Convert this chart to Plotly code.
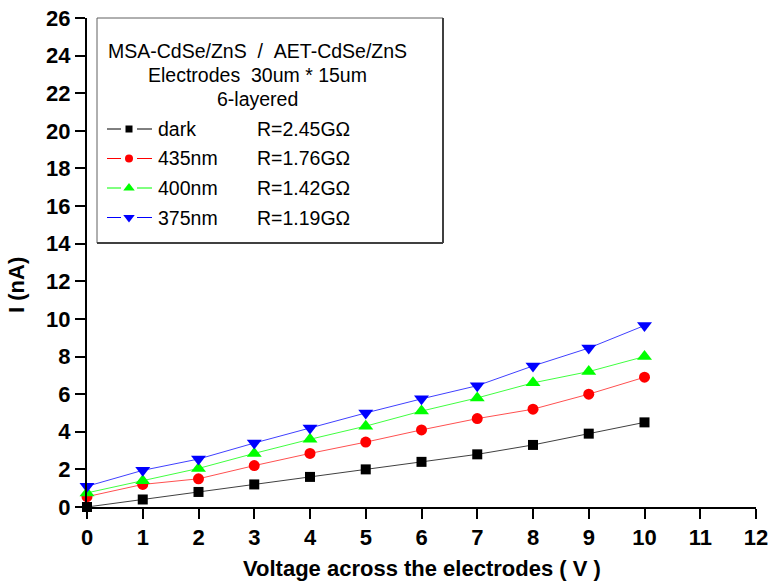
import plotly.graph_objects as go

# Applied bias (V) and measured photocurrent (nA) for each illumination condition
voltage = [0, 1, 2, 3, 4, 5, 6, 7, 8, 9, 10]
i_dark = [0.0, 0.4, 0.8, 1.2, 1.6, 2.0, 2.4, 2.8, 3.3, 3.9, 4.5]
i_435 = [0.55, 1.2, 1.5, 2.2, 2.85, 3.45, 4.1, 4.7, 5.2, 6.0, 6.9]
i_400 = [0.75, 1.4, 2.05, 2.85, 3.6, 4.3, 5.1, 5.8, 6.6, 7.2, 8.0]
i_375 = [1.1, 1.95, 2.55, 3.4, 4.2, 5.0, 5.75, 6.45, 7.5, 8.45, 9.65]

series_names = ["dark", "435nm", "400nm", "375nm"]
resistances = ["R=2.45G\u03a9", "R=1.76G\u03a9", "R=1.42G\u03a9", "R=1.19G\u03a9"]
series_values = [i_dark, i_435, i_400, i_375]
marker_colors = ["#000000", "#ff0000", "#00ff00", "#0000ff"]
line_colors = ["#404040", "#ff5050", "#40ff40", "#4040ff"]
symbols = ["square", "circle", "triangle-up", "triangle-down"]
sizes = [10, 11, 13, 13]

x_ticks = list(range(0, 13))
y_ticks = list(range(0, 27, 2))

W, H = 769, 585
ML, MR, MT, MB = 87, 13, 18, 78
PW, PH = W - ML - MR, H - MT - MB


def px(x):
    return (x - ML) / PW


def py(y):
    return (H - MB - y) / PH


FONT = "Liberation Sans, Arial, sans-serif"

fig = go.Figure()

for name, vals, mc, lc, sym, sz in zip(series_names, series_values, marker_colors,
                                        line_colors, symbols, sizes):
    fig.add_trace(go.Scatter(
        x=voltage, y=vals, mode="lines+markers", name=name,
        line=dict(color=lc, width=1),
        marker=dict(symbol=sym, size=sz, color=mc, line=dict(width=0)),
        showlegend=False, cliponaxis=False,
    ))

# Inset key box
box_l, box_t, box_r, box_b = 97, 18, 443, 243
shapes = [
    dict(type="rect", xref="paper", yref="paper",
         x0=px(box_l), x1=px(box_r), y0=py(box_b), y1=py(box_t),
         line=dict(color="#606060", width=1), fillcolor="white", layer="below"),
    dict(type="line", xref="paper", yref="paper",
         x0=px(box_r), x1=px(box_r), y0=py(box_b), y1=py(box_t),
         line=dict(color="#404040", width=2)),
    dict(type="line", xref="paper", yref="paper",
         x0=px(box_l), x1=px(box_r), y0=py(box_b), y1=py(box_b),
         line=dict(color="#404040", width=2)),
]

annotations = []
header = ["MSA-CdSe/ZnS\u00a0\u00a0/\u00a0\u00a0AET-CdSe/ZnS",
          "Electrodes\u00a0\u00a030um * 15um",
          "6-layered"]
for k, txt in enumerate(header):
    annotations.append(dict(
        x=px(257), y=py(51 + k * 24), xref="paper", yref="paper",
        text=txt, showarrow=False, xanchor="center", yanchor="middle",
        font=dict(family=FONT, size=19.5, color="black")))

row_y = [129, 158.5, 188, 217.5]
for k in range(4):
    yy = row_y[k]
    for a, b in [(107, 121), (137, 152)]:
        shapes.append(dict(type="line", xref="paper", yref="paper",
                           x0=px(a), x1=px(b), y0=py(yy), y1=py(yy),
                           line=dict(color=marker_colors[k], width=1)))
    annotations.append(dict(
        x=px(156), y=py(yy), xref="paper", yref="paper", text=series_names[k],
        showarrow=False, xanchor="left", yanchor="middle",
        font=dict(family=FONT, size=19.5, color="black")))
    annotations.append(dict(
        x=px(255), y=py(yy), xref="paper", yref="paper", text=resistances[k],
        showarrow=False, xanchor="left", yanchor="middle",
        font=dict(family=FONT, size=19.5, color="black")))
    fig.add_trace(go.Scatter(
        x=[px(129)], y=[py(yy)], mode="markers", xaxis="x2", yaxis="y2",
        marker=dict(symbol=symbols[k], size=sizes[k] - 3, color=marker_colors[k]),
        showlegend=False, hoverinfo="skip"))

# Axis titles
annotations.append(dict(
    x=px(422), y=py(568), xref="paper", yref="paper",
    text="Voltage across the electrodes ( V )", showarrow=False,
    xanchor="center", yanchor="middle",
    font=dict(family=FONT, size=22, color="black", weight="bold")))
annotations.append(dict(
    x=px(16), y=py(285), xref="paper", yref="paper", text="I (nA)",
    showarrow=False, textangle=-90, xanchor="center", yanchor="middle",
    font=dict(family=FONT, size=22, color="black", weight="bold")))

axis_common = dict(
    showgrid=False, zeroline=False, showline=True, linecolor="black", linewidth=2,
    ticks="outside", ticklen=10, tickwidth=2, tickcolor="black", automargin=False,
    tickfont=dict(family=FONT, size=22, color="black", weight="bold"),
)

fig.update_layout(
    width=W, height=H,
    margin=dict(l=ML, r=MR, t=MT, b=MB, autoexpand=False),
    paper_bgcolor="white", plot_bgcolor="white",
    shapes=shapes, annotations=annotations,
    xaxis=dict(range=[0, 12], tickvals=x_ticks, **axis_common),
    yaxis=dict(range=[0, 26], tickvals=y_ticks, **axis_common),
    xaxis2=dict(range=[0, 1], overlaying="x", visible=False, domain=[0, 1],
                automargin=False),
    yaxis2=dict(range=[0, 1], overlaying="y", visible=False, automargin=False),
)

fig.write_html("out.html")
